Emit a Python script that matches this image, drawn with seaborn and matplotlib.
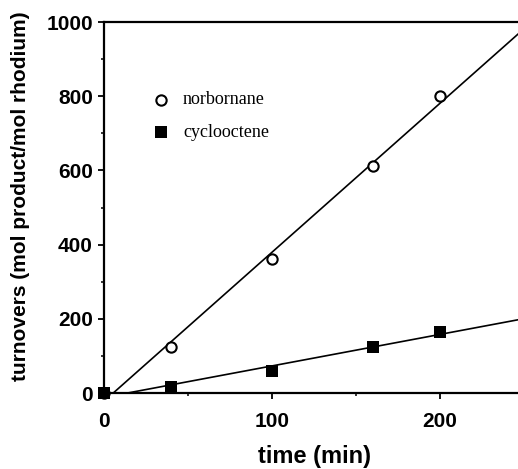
import numpy as np
import pandas as pd
import seaborn as sns
import matplotlib.pyplot as plt
from matplotlib.ticker import MultipleLocator

# 읽어낸 데이터 (time in min, turnovers)
time_norb = [0, 40, 100, 160, 200]
turn_norb = [0, 125, 360, 612, 800]
time_cyc = [0, 40, 100, 160, 200]
turn_cyc = [0, 15, 60, 125, 165]

norb = pd.DataFrame({'time': time_norb, 'turnovers': turn_norb})
cyc = pd.DataFrame({'time': time_cyc, 'turnovers': turn_cyc})

sns.set_style('ticks', {'text.color': 'black', 'axes.labelcolor': 'black',
                        'xtick.color': 'black', 'ytick.color': 'black',
                        'axes.edgecolor': 'black'})
plt.rcParams['font.family'] = ['Liberation Sans', 'DejaVu Sans']

fig = plt.figure(figsize=(5.18, 4.69), dpi=100)
ax = fig.add_axes([104 / 518, 76 / 469, 420 / 518, 371 / 469])
ax.set_xlim(0, 250)
ax.set_ylim(0, 1000)

sns.regplot(data=norb, x='time', y='turnovers', ax=ax, ci=None, truncate=False,
            marker='o', label='norbornane',
            scatter_kws={'s': 55, 'facecolors': 'white', 'edgecolors': 'black',
                         'linewidths': 1.5, 'alpha': 1, 'clip_on': False, 'zorder': 3},
            line_kws={'color': 'black', 'lw': 1.2})
sns.regplot(data=cyc, x='time', y='turnovers', ax=ax, ci=None, truncate=False,
            marker='s', label='cyclooctene',
            scatter_kws={'s': 70, 'color': 'black', 'linewidths': 0, 'alpha': 1,
                         'clip_on': False, 'zorder': 4},
            line_kws={'color': 'black', 'lw': 1.2})
ax.set_xlim(0, 250)
ax.set_ylim(0, 1000)

ax.xaxis.set_major_locator(MultipleLocator(100))
ax.xaxis.set_minor_locator(MultipleLocator(50))
ax.yaxis.set_major_locator(MultipleLocator(200))
ax.yaxis.set_minor_locator(MultipleLocator(100))
ax.tick_params(which='major', direction='out', length=4, width=1.3, labelsize=15, pad=4)
ax.tick_params(axis='x', which='major', pad=9.5)
ax.tick_params(which='minor', direction='out', length=2.5, width=1.1)
for lab in ax.get_xticklabels() + ax.get_yticklabels():
    lab.set_fontweight('bold')

for s in ['left', 'top', 'bottom']:
    ax.spines[s].set_linewidth(1.6)
ax.spines['right'].set_visible(False)

ax.set_xlabel('time (min)', fontsize=17, fontweight='bold', labelpad=10)
ax.set_ylabel('turnovers (mol product/mol rhodium)', fontsize=15, fontweight='bold')
ax.yaxis.set_label_coords(-0.175, 0.53)

handles = [c for c in ax.collections]
ax.legend(handles=handles, labels=['norbornane', 'cyclooctene'], frameon=False,
          loc='upper left', bbox_to_anchor=(127 / 518, 1 - 75 / 469),
          bbox_transform=fig.transFigure, handletextpad=0.2, labelspacing=0.85,
          prop={'family': 'Liberation Serif', 'size': 13})

fig.savefig('out.png', dpi=100)
